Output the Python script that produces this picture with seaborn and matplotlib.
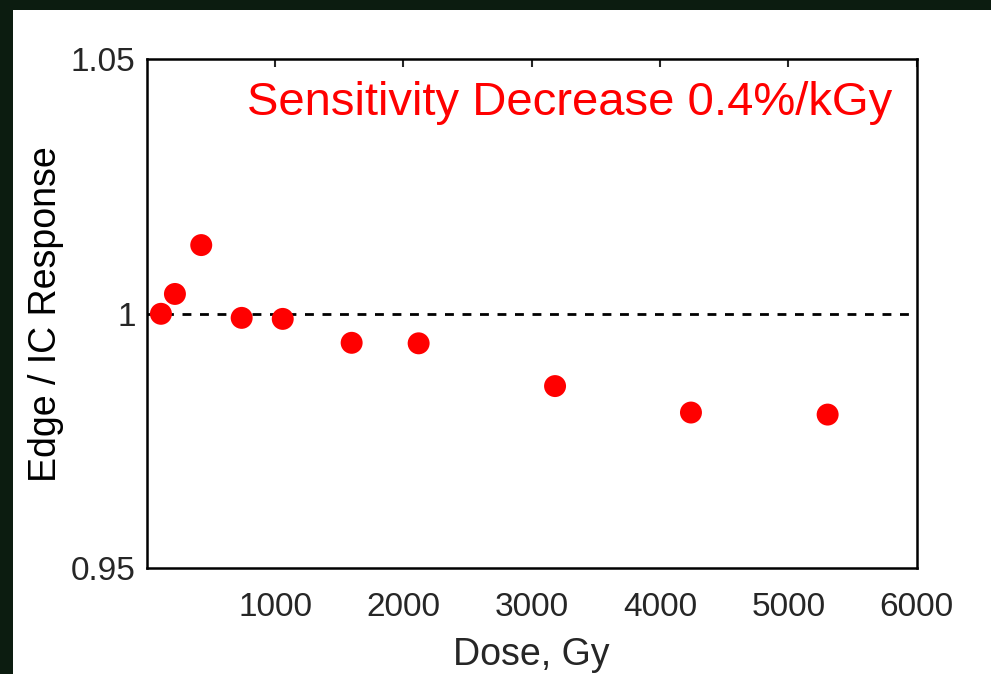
import matplotlib
matplotlib.use("Agg")
import matplotlib.pyplot as plt
import seaborn as sns
import pandas as pd
from matplotlib.patches import Rectangle

dose = [111, 220, 425, 740, 1060, 1597, 2119, 3182, 4241, 5306]
response = [1.0000, 1.0039, 1.0135, 0.9992, 0.9990, 0.9943, 0.9942, 0.9858, 0.9806, 0.9802]
xticks = [1000, 2000, 3000, 4000, 5000, 6000]
yticks = [0.95, 1.0, 1.05]
ytick_labels = ["0.95", "1", "1.05"]
annotation = "Sensitivity Decrease 0.4%/kGy"

df = pd.DataFrame({"Dose": dose, "Response": response})

sns.set_theme(style="white")
plt.rcParams["font.family"] = ["Liberation Sans", "DejaVu Sans"]

W, H = 991, 674
fig = plt.figure(figsize=(W / 100, H / 100), dpi=100, facecolor="#0c1c10")
bg = Rectangle((13 / W, 0), 1, 1 - 9.5 / H, transform=fig.transFigure,
               facecolor="white", edgecolor="none", zorder=-10)
fig.add_artist(bg)
ax = fig.add_axes([146.7 / W, (H - 568.3) / H, 770 / W, 509 / H])
ax.set_zorder(1)
ax.set_facecolor("white")

ax.axhline(1.0, color="black", lw=2, ls=(0, (3.2, 3.1)), zorder=1)
sns.scatterplot(data=df, x="Dose", y="Response", ax=ax, color="#ff0000", s=250,
                edgecolor="none", linewidth=0, zorder=3)

ax.set_xlim(0, 6000)
ax.set_ylim(0.95, 1.05)
ax.set_xticks(xticks)
ax.set_yticks(yticks)
ax.set_yticklabels(ytick_labels)
ax.tick_params(axis="both", labelsize=24, labelcolor="#262626", direction="in",
               length=6, width=1.5, color="#262626")
ax.tick_params(axis="x", top=True, pad=17)
ax.tick_params(axis="y", pad=8)
for sp in ax.spines.values():
    sp.set_color("black")
    sp.set_linewidth(1.8)

ax.set_xlabel("Dose, Gy", fontsize=27, color="#262626", labelpad=10)
ax.set_ylabel("Edge / IC Response", fontsize=27, color="black", labelpad=5)

ax.text(0.968, 0.915, annotation, transform=ax.transAxes, ha="right", va="center",
        fontsize=34, color="#ff0000")

fig.savefig("out.png", dpi=100, facecolor=fig.get_facecolor())
